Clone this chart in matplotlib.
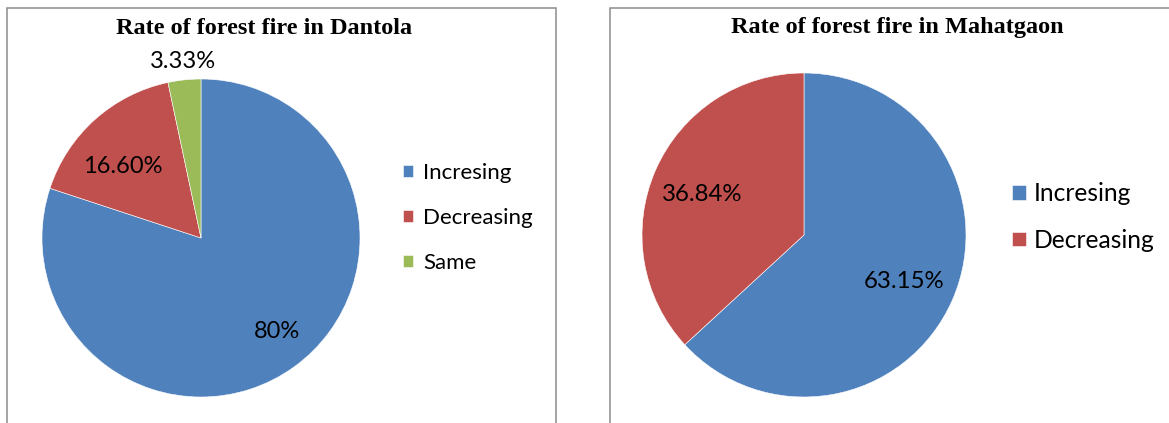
import matplotlib
matplotlib.use('agg')
import matplotlib.pyplot as plt
from matplotlib.patches import Rectangle

# Survey answers, one pie per village
dantola_labels = ["Incresing", "Decreasing", "Same"]
dantola_values = [80, 16.60, 3.33]
mahatgaon_labels = ["Incresing", "Decreasing"]
mahatgaon_values = [63.15, 36.84]

colors = ["#4F81BD", "#C0504D", "#9BBB59"]

W, H = 1169, 423


def fx(px):
    return px / W


def fy(py):
    return (H - py) / H


def pct_text(v):
    return "{0:.2f}%".format(v).replace(".00", "")


def draw_pie(fig, center, radius, values, labels, label_pos, fontsize, title, title_pos, title_size,
             leg_pos, leg_size, leg_spacing, handle, pad):
    cx, cy = center
    ax = fig.add_axes([fx(cx - radius), fy(cy + radius), 2 * radius / W, 2 * radius / H])
    wedges, _ = ax.pie(values, colors=colors[:len(values)], startangle=90, counterclock=False,
                       wedgeprops=dict(edgecolor="white", linewidth=0.4))
    ax.set_xlim(-1, 1)
    ax.set_ylim(-1, 1)
    ax.set_aspect("auto")
    for v, (x, y) in zip(values, label_pos):
        ax.text(x, y, pct_text(v), ha="center", va="center", fontsize=fontsize,
                family="Lato", color="black", clip_on=False)

    fig.text(fx(title_pos[0]), fy(title_pos[1]), title, ha="center", va="center",
             family="Liberation Serif", fontweight="bold", fontsize=title_size)

    fig.legend(wedges, labels, loc="center left", bbox_to_anchor=(fx(leg_pos[0]), fy(leg_pos[1])),
               frameon=False, prop=dict(family="Lato", size=leg_size),
               handlelength=handle, handleheight=handle, handletextpad=pad,
               labelspacing=leg_spacing, borderpad=0, borderaxespad=0)


def main():
    fig = plt.figure(figsize=(W / 100, H / 100), dpi=100)
    fig.patch.set_facecolor("white")

    # chart frames
    fig.patches.append(Rectangle((fx(7), fy(440)), fx(556) - fx(7), fy(8) - fy(440), transform=fig.transFigure,
                                 fill=False, edgecolor="#8c8c8c", linewidth=1.1))
    fig.patches.append(Rectangle((fx(610), fy(440)), fx(1200) - fx(610), fy(8) - fy(440), transform=fig.transFigure,
                                 fill=False, edgecolor="#8c8c8c", linewidth=1.1))

    draw_pie(fig, (201, 238), 159, dantola_values, dantola_labels,
             [(0.478, -0.591), (-0.491, 0.447), (-0.113, 1.113)], 17,
             "Rate of forest fire in Dantola", (264, 28), 17.5,
             (403, 218), 16, 1.13, 0.45, 0.45)

    draw_pie(fig, (804, 235), 162, mahatgaon_values, mahatgaon_labels,
             [(0.617, -0.290), (-0.630, 0.247)], 17.3,
             "Rate of forest fire in Mahatgaon", (897, 28), 17.5,
             (1012, 217), 17.7, 0.95, 0.55, 0.33)

    fig.savefig("out.png", dpi=100)


if __name__ == "__main__":
    main()
